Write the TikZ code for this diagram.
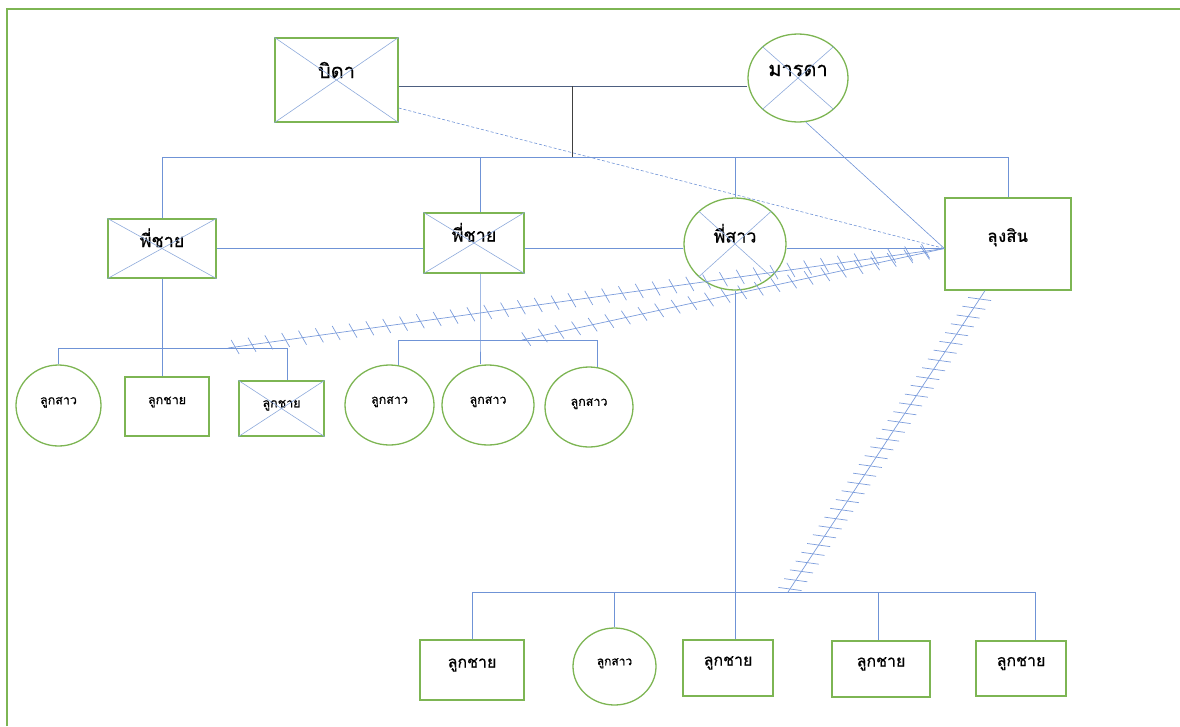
\documentclass[tikz,border=0pt]{standalone}
\usepackage{fontspec}
\newfontfamily\thaifont[Script=Thai,FakeBold=0.6]{Loma}
\newfontfamily\thaibold[Script=Thai]{Loma Bold}
\usetikzlibrary{shapes.geometric,decorations.markings}
\definecolor{kingreen}{HTML}{7DB553}
\definecolor{linkblue}{HTML}{6F93D6}
\definecolor{crossblue}{HTML}{8EAADB}
\definecolor{hatchblue}{HTML}{7C9DDC}
\definecolor{weddark}{HTML}{4D5F80}
\definecolor{stemdark}{HTML}{404040}

\tikzset{
  person/.style={draw=kingreen, line width=1.3pt, inner sep=0pt, align=center,
    font=\thaifont\fontsize{18}{21}\selectfont, text height=6pt, text depth=9pt},
  male/.style={person, rectangle},
  female/.style={person, ellipse},
  big/.style={font=\thaifont\fontsize{20}{24}\selectfont, text height=6pt, text depth=10pt},
  kid/.style={font=\thaifont\fontsize{16}{19}\selectfont, text height=5pt, text depth=10pt},
  small/.style={font=\thaifont\fontsize{12.5}{15}\selectfont, text height=4pt, text depth=6.5pt},
  tiny/.style={font=\thaifont\fontsize{12}{14}\selectfont, text height=4pt, text depth=6.5pt},
  link/.style={draw=linkblue, line width=0.6pt},
  crossline/.style={draw=crossblue, line width=0.6pt},
  shallowhatch/.style={draw=hatchblue, line width=0.7pt, postaction={decorate},
    decoration={markings, mark=between positions 0.01 and 0.99 step 17pt with
      {\draw[hatchblue, line width=0.7pt] (-3pt,7.5pt) -- (3pt,-7.5pt);}}},
  steephatch/.style={draw=hatchblue, line width=0.7pt, postaction={decorate},
    decoration={markings, mark=between positions 0.01 and 0.99 step 10.5pt with
      {\draw[hatchblue, line width=0.7pt] (-5pt,10.5pt) -- (5pt,-10.5pt);}}},
}

\begin{document}
\begin{tikzpicture}[x=1pt,y=-1pt]
\useasboundingbox (0,0) rectangle (1180,726);

% page frame
\draw[kingreen, line width=1.5pt] (7,726) -- (7,9) -- (1180,9);

% parents
\node[male, big, minimum width=123pt, minimum height=84pt] (father) at (336.5,80) {บิดา};
\node[female, big, minimum width=100pt, minimum height=88pt] (mother) at (798,78) {มารดา};

% siblings
\node[male, minimum width=108pt, minimum height=59pt] (bro1) at (162,248.5) {พี่ชาย};
\node[male, minimum width=100pt, minimum height=60pt] (bro2) at (474,243) {พี่ชาย};
\node[female, minimum width=102pt, minimum height=92pt] (sis) at (735,244) {พี่สาว};
\node[male, minimum width=126pt, minimum height=92pt, font=\thaibold\fontsize{17}{20}\selectfont, text height=7pt, text depth=10pt] (uncle) at (1008,244) {ลุงสิน};

% children of the first brother
\node[female, small, minimum width=85pt, minimum height=81pt] (ka) at (58.5,405.5) {ลูกสาว};
\node[male, small, minimum width=84pt, minimum height=59pt, text depth=9pt] (kb) at (167,406.5) {ลูกชาย};
\node[male, small, minimum width=85pt, minimum height=55pt] (kc) at (281.5,408.5) {ลูกชาย};

% children of the second brother
\node[female, small, minimum width=89pt, minimum height=80pt] (ma) at (389.5,405) {ลูกสาว};
\node[female, small, minimum width=92pt, minimum height=80pt] (mb) at (488,405) {ลูกสาว};
\node[female, small, minimum width=88pt, minimum height=80pt] (mc) at (589,407) {ลูกสาว};

% children of the sister
\node[male, kid, minimum width=104pt, minimum height=60pt] (na) at (472,670) {ลูกชาย};
\node[female, tiny, minimum width=83pt, minimum height=77pt] (nb) at (614.5,666.5) {ลูกสาว};
\node[male, kid, minimum width=90pt, minimum height=56pt] (nc) at (728,668) {ลูกชาย};
\node[male, kid, minimum width=98pt, minimum height=56pt] (nd) at (881,669) {ลูกชาย};
\node[male, kid, minimum width=90pt, minimum height=55pt] (ne) at (1021,668.5) {ลูกชาย};

% deceased marks
\foreach \n in {father,bro1,bro2,kc,mother,sis}{
  \draw[crossline] (\n.north west) -- (\n.south east);
  \draw[crossline] (\n.south west) -- (\n.north east);
}

% junction points
\coordinate (wed) at (572,86);
\coordinate (sib) at (572,157);
\coordinate (lbar) at (162,348);
\coordinate (mbar) at (480,340);
\coordinate (bbar) at (735,592);
\coordinate (uw) at (uncle.west |- bro1.east);
\coordinate (lhook) at (228,348);
\coordinate (mhook) at (522,340);
\coordinate (bhook) at (788,592);

% marriage and descent
\draw[draw=weddark, line width=0.7pt] (father.east |- wed) -- (mother.west |- wed);
\draw[draw=stemdark, line width=0.7pt] (wed) -- (sib);
\draw[link] (bro1.north) -- (bro1.north |- sib) -- (uncle.north |- sib) -- (uncle.north);
\draw[link] ([xshift=6pt]bro2.north |- sib) -- ([xshift=6pt]bro2.north);
\draw[link] (sis.north |- sib) -- (sis.north);

% sibling line
\draw[link] (bro1.east) -- (bro2.west |- bro1.east);
\draw[link] (bro2.east |- bro1.east) -- (sis.west |- bro1.east);
\draw[link] (sis.east |- bro1.east) -- (uw);

% links to the uncle
\draw[link, dashed, dash pattern=on 3pt off 2pt] ([yshift=-28pt]father.east) -- (uw);
\draw[link] (mother.-80) -- (uw);

% first brother's family
\draw[link] (bro1.south) -- (bro1.south |- kb.north);
\draw[link] (ka.north) -- (ka.north |- lbar) -- ([xshift=6pt]kc.north |- lbar) -- ([xshift=6pt]kc.north);

% second brother's family
\draw[link] ([xshift=6pt]bro2.south) -- (mbar) -- (mbar |- mb.north);
\draw[link] (ma.78) -- (ma.78 |- mbar) -- (mc.78 |- mbar) -- (mc.78);

% sister's family
\draw[link] (sis.south) -- (sis.south |- nc.north);
\draw[link] (na.north) -- (na.north |- bbar) -- ([xshift=14pt]ne.north |- bbar) -- ([xshift=14pt]ne.north);
\draw[link] (nb.north |- bbar) -- (nb.north);
\draw[link] ([xshift=-3pt]nd.north |- bbar) -- ([xshift=-3pt]nd.north);

% hatched ties to the uncle
\draw[shallowhatch] (lhook) -- (uw);
\draw[shallowhatch] (mhook) -- (uw);
\draw[steephatch] (bhook) -- ([xshift=-23pt]uncle.south);
\end{tikzpicture}
\end{document}
